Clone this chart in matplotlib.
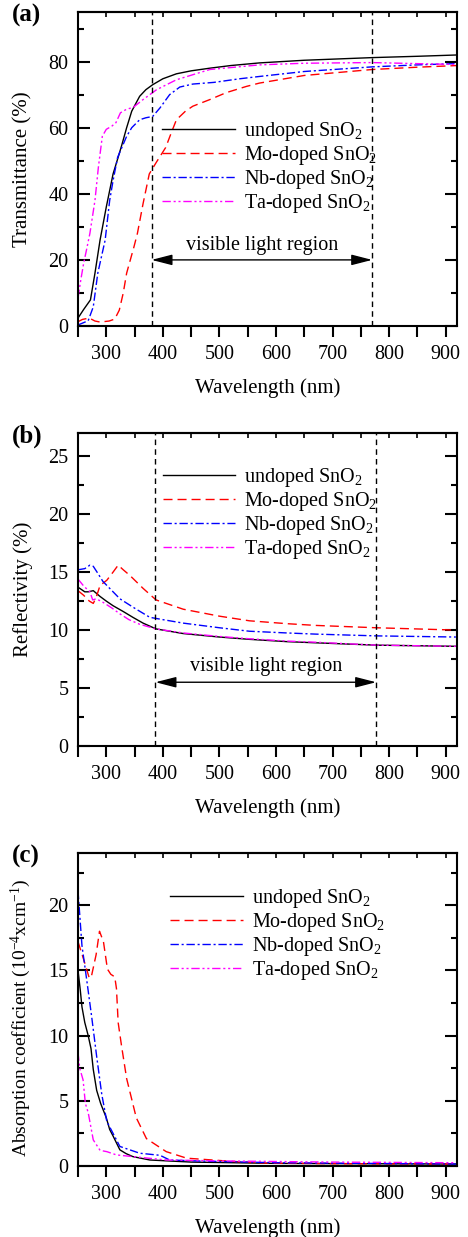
import matplotlib
matplotlib.use("Agg")
import matplotlib.pyplot as plt
import numpy as np
from matplotlib.ticker import MultipleLocator

plt.rcParams['font.family'] = ['Liberation Serif', 'DejaVu Serif']
plt.rcParams['font.size'] = 14.5
plt.rcParams['mathtext.fontset'] = 'custom'
plt.rcParams['mathtext.rm'] = 'Liberation Serif'
plt.rcParams['mathtext.it'] = 'Liberation Serif:italic'
plt.rcParams['mathtext.bf'] = 'Liberation Serif:bold'

labels = ['undoped SnO$_2$', 'Mo-doped SnO$_2$', 'Nb-doped SnO$_2$', 'Ta-doped SnO$_2$']
colors = ['black', 'red', 'blue', 'magenta']
styles = ['-', (0, (6.5, 3.6)), (0, (6, 2, 1.5, 2)), (0, (6, 2, 1.5, 2, 1.5, 2))]

# (a) transmittance (%)
wl_t_undoped = [250, 260, 272, 280, 289, 300, 312, 320, 327, 336, 345, 359, 370, 382, 400, 424, 450, 483, 520, 571, 650, 770, 850, 920]
t_undoped = [2.4, 5, 7.9, 16, 26, 36, 46, 50.5, 54.5, 60, 65, 69.5, 71.5, 73, 74.8, 76.3, 77.2, 78, 78.8, 79.6, 80.4, 81.2, 81.6, 82.0]
wl_t_mo = [250, 258, 270, 280, 289, 305, 315, 323, 330, 336, 349, 355, 365, 376, 388, 405, 415, 424, 440, 453, 483, 512, 548, 571, 650, 770, 850, 920]
t_mo = [1.3, 2.0, 2.4, 1.5, 1.2, 1.5, 2.1, 4.8, 10, 16, 24, 28, 37, 46, 49.4, 54, 58.5, 62.4, 65, 66.5, 68.5, 70.6, 72.5, 73.5, 75.8, 77.6, 78.3, 78.8]
wl_t_nb = [250, 268, 277, 285, 298, 306, 312, 320, 336, 345, 359, 370, 382, 395, 412, 430, 453, 490, 536, 571, 650, 770, 850, 920]
t_nb = [0.3, 1.6, 5.8, 16, 26, 38, 44, 51, 57.4, 60, 62.4, 63, 63.4, 66, 70, 72.3, 73.2, 73.7, 74.8, 75.5, 77, 78.4, 79, 79.4]
wl_t_ta = [250, 255, 260, 265, 271, 280, 286, 293, 300, 310, 317, 325, 335, 348, 365, 389, 424, 483, 571, 650, 770, 920]
t_ta = [8.5, 14, 19, 23, 28, 38, 48, 57.4, 59.5, 60.5, 61.5, 64.5, 65.5, 66.2, 68.5, 71.5, 74.5, 77.6, 79, 79.5, 79.7, 79.1]

# (b) reflectivity (%)
wl_r_undoped = [250, 262, 268, 277, 289, 300, 312, 330, 347, 365, 388, 436, 500, 553, 620, 671, 777, 918]
r_undoped = [13.7, 13.3, 13.3, 13.4, 12.9, 12.5, 12.1, 11.6, 11.1, 10.6, 10.1, 9.7, 9.4, 9.2, 9.0, 8.9, 8.7, 8.6]
wl_r_mo = [250, 260, 270, 277, 282, 289, 301, 312, 321, 330, 342, 365, 388, 436, 500, 553, 620, 671, 777, 918]
r_mo = [13.4, 13.0, 12.5, 12.3, 12.8, 13.85, 14.3, 15.0, 15.6, 15.2, 14.7, 13.6, 12.6, 11.8, 11.2, 10.8, 10.55, 10.4, 10.2, 10.0]
wl_r_nb = [250, 262, 271, 277, 285, 294, 310, 324, 340, 353, 377, 400, 436, 500, 553, 620, 671, 777, 918]
r_nb = [15.2, 15.3, 15.6, 15.5, 14.9, 14.2, 13.4, 12.7, 12.2, 11.8, 11.1, 10.9, 10.6, 10.2, 9.9, 9.75, 9.65, 9.5, 9.4]
wl_r_ta = [250, 260, 271, 276, 282, 294, 310, 324, 340, 359, 388, 436, 500, 553, 620, 671, 777, 918]
r_ta = [14.4, 13.8, 13.3, 12.6, 12.7, 12.4, 11.9, 11.4, 10.9, 10.5, 10.1, 9.75, 9.45, 9.25, 9.05, 8.95, 8.7, 8.6]

# (c) absorption coefficient (10^-4 cm^-1)
wl_a_undoped = [250, 254, 257, 262, 268, 273, 277, 283, 290, 300, 306, 312, 324, 335, 347, 377, 450, 600, 920]
a_undoped = [15.0, 13.5, 12.2, 11.0, 10.0, 9.0, 7.4, 5.8, 4.8, 3.7, 2.8, 2.3, 1.24, 0.95, 0.72, 0.46, 0.3, 0.2, 0.15]
wl_a_mo = [250, 261, 270, 274, 282, 288, 295, 302, 308, 315, 318, 321, 327, 336, 353, 371, 406, 442, 524, 583, 700, 920]
a_mo = [17.2, 15.7, 14.4, 14.6, 16.2, 18.0, 17.2, 15.1, 14.7, 14.5, 13.6, 11.0, 9.2, 6.7, 3.7, 2.1, 1.1, 0.6, 0.35, 0.22, 0.18, 0.15]
wl_a_nb = [250, 257, 265, 274, 283, 292, 301, 306, 324, 359, 395, 412, 465, 600, 920]
a_nb = [21.1, 16.9, 14.4, 11.5, 8.4, 5.5, 3.4, 3.0, 1.5, 0.98, 0.82, 0.46, 0.38, 0.25, 0.15]
wl_a_ta = [250, 253, 259, 263, 268, 277, 289, 301, 318, 347, 406, 524, 700, 920]
a_ta = [8.7, 7.5, 6.6, 4.8, 4.1, 2.0, 1.2, 1.1, 0.85, 0.72, 0.46, 0.38, 0.3, 0.25]

W, H = 468, 1237
fig = plt.figure(figsize=(W / 100, H / 100), dpi=100)


def make_axes(top, bottom):
    left, right = 78, 457
    return fig.add_axes([left / W, 1 - bottom / H, (right - left) / W, (bottom - top) / H])


def style_axes(ax, ymax, ymajor, yminor):
    ax.set_xlim(250, 920)
    ax.set_ylim(0, ymax)
    ax.xaxis.set_major_locator(MultipleLocator(100))
    ax.xaxis.set_minor_locator(MultipleLocator(50))
    ax.yaxis.set_major_locator(MultipleLocator(ymajor))
    ax.yaxis.set_minor_locator(MultipleLocator(yminor))
    for s in ax.spines.values():
        s.set_linewidth(1.5)
    ax.tick_params(axis='x', which='both', direction='out', length=8, width=1.5, pad=6, bottom=True, top=False)
    ax.tick_params(axis='y', which='major', direction='in', length=8.5, width=1.5, left=True, right=True, pad=7)
    ax.tick_params(axis='y', which='minor', direction='in', length=4.5, width=1.5, left=True, right=True)
    top_ax = ax.secondary_xaxis('top')
    top_ax.set_xticks(np.arange(300, 901, 50))
    top_ax.tick_params(direction='in', length=3.5, width=1.2, labeltop=False)
    top_ax.spines['top'].set_linewidth(1.5)
    ax.set_xlabel('Wavelength (nm)', fontsize=15, labelpad=10)


def draw_series(ax, series):
    for (x, y), lab, c, ls in zip(series, labels, colors, styles):
        ax.plot(x, y, color=c, linestyle=ls, lw=1.0, label=lab)


def visible_region(ax, x0, x1, y_arrow, y_text):
    for xv in (x0, x1):
        ax.axvline(xv, color='black', lw=1.0, linestyle=(0, (4, 3)))
    ax.annotate('', xy=(x1, y_arrow), xytext=(x0, y_arrow),
                arrowprops=dict(arrowstyle='<|-|>,head_length=0.7,head_width=0.18',
                                color='black', lw=1.0, shrinkA=0, shrinkB=0, mutation_scale=18))
    ax.text((x0 + x1) / 2, y_text, 'visible light region', ha='center', va='center')


def add_legend(ax, x, y):
    ax.legend(loc='upper left', bbox_to_anchor=(x, y), frameon=False, handlelength=3.6,
              handletextpad=0.45, labelspacing=0.05, borderpad=0, borderaxespad=0)


# panel (a)
ax_a = make_axes(12, 326)
draw_series(ax_a, [(wl_t_undoped, t_undoped), (wl_t_mo, t_mo), (wl_t_nb, t_nb), (wl_t_ta, t_ta)])
style_axes(ax_a, 95, 20, 10)
visible_region(ax_a, 380, 770, 20, 24.5)
ax_a.set_ylabel('Transmittance (%)', fontsize=15)
ax_a.yaxis.set_label_coords(-0.119, 0.5)
add_legend(ax_a, 0.222, 0.655)

# panel (b)
ax_b = make_axes(433, 746)
draw_series(ax_b, [(wl_r_undoped, r_undoped), (wl_r_mo, r_mo), (wl_r_nb, r_nb), (wl_r_ta, r_ta)])
style_axes(ax_b, 27, 5, 2.5)
visible_region(ax_b, 387, 777, 5.5, 6.9)
ax_b.set_ylabel('Reflectivity (%)', fontsize=15)
ax_b.yaxis.set_label_coords(-0.119, 0.5)
add_legend(ax_b, 0.224, 0.895)

# panel (c)
ax_c = make_axes(853, 1166)
draw_series(ax_c, [(wl_a_undoped, a_undoped), (wl_a_mo, a_mo), (wl_a_nb, a_nb), (wl_a_ta, a_ta)])
style_axes(ax_c, 24, 5, 2.5)
ax_c.set_ylabel('Absorption coefficient (10$^{-4}$xcm$^{-1}$)', fontsize=14)
ax_c.yaxis.set_label_coords(-0.119, 0.475)
add_legend(ax_c, 0.243, 0.89)

for lab, ytop in (('(a)', 12), ('(b)', 433), ('(c)', 853)):
    fig.text(12 / W, 1 - (ytop + 3) / H, lab, fontsize=18, fontweight='bold', ha='left', va='center')

fig.savefig('out.png', dpi=100)
